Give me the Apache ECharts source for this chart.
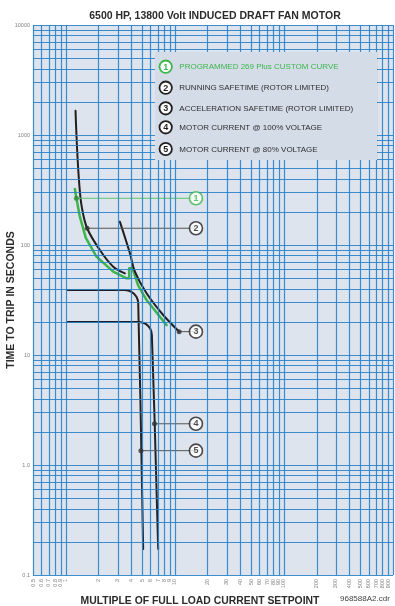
<!DOCTYPE html>
<html>
<head>
<meta charset="utf-8">
<script src="https://cdn.jsdelivr.net/npm/echarts@6/dist/echarts.min.js"></script>
<style>
  html, body { margin: 0; padding: 0; background: #ffffff; }
  #chart { width: 395px; height: 606px; }
</style>
</head>
<body>
<div id="chart"></div>
<script>
// Tick positions and labels (log scales)
const xTickValues = [0.5, 0.6, 0.7, 0.8, 0.9, 1, 2, 3, 4, 5, 6, 7, 8, 9, 10, 20, 30, 40, 50, 60, 70, 80, 90, 100, 200, 300, 400, 500, 600, 700, 800, 900, 1000];
const xTickLabels = ['0.5', '0.6', '0.7', '0.8', '0.9', '1', '2', '3', '4', '5', '6', '7', '8', '9', '10', '20', '30', '40', '50', '60', '70', '80', '90', '100', '200', '300', '400', '500', '600', '700', '800', '900', '1000'];
const yTickValues = [0.1, 1, 10, 100, 1000, 10000];
const yTickLabels = ['0.1', '1.0', '10', '100', '1000', '10000'];
const yGridValues = [0.1, 0.2, 0.3, 0.4, 0.5, 0.6, 0.7, 0.8, 0.9,
  1, 2, 3, 4, 5, 6, 7, 8, 9,
  10, 20, 30, 40, 50, 60, 70, 80, 90,
  100, 200, 300, 400, 500, 600, 700, 800, 900,
  1000, 2000, 3000, 4000, 5000, 6000, 7000, 8000, 9000, 10000];

// Curves: [multiple of FLC, seconds]
const customCurve = [[1.21, 323], [1.25, 266], [1.344, 181], [1.525, 116], [1.91, 78.3], [2.72, 57.2], [3.60, 49.8], [3.81, 49.8], [3.81, 61.4], [4.09, 61.4], [4.58, 43.3], [5.50, 31.6], [8.39, 18.7]];
const runningSafetime = [[1.227, 1663], [1.27, 731], [1.33, 351], [1.40, 222], [1.568, 142], [2.05, 90.1], [2.72, 63.5], [3.48, 55.3]];
const accelSafetime = [[3.13, 163], [3.87, 84.0], [4.30, 57.2], [5.50, 36.4], [7.81, 23.1], [10.95, 16.3]];
const current100 = [[1.036, 20], [4.67, 20], [5.36, 19.3], [5.93, 17.4], [6.15, 15.2], [7.03, 0.172]];
const current80 = [[1.036, 39.0], [3.48, 39.0], [4.00, 37.5], [4.44, 33.9], [4.61, 29.5], [5.12, 0.172]];

// Callouts: point on each curve, and the x of the numbered circle
const calloutNumbers = ['1', '2', '3', '4', '5'];
const calloutPoints = [[1.25, 266], [1.568, 142], [10.95, 16.3], [6.5, 2.37], [4.88, 1.35]];
const calloutCircleX = 15.6;

const legendItems = [
  'PROGRAMMED 269 Plus CUSTOM CURVE',
  'RUNNING SAFETIME (ROTOR LIMITED)',
  'ACCELERATION SAFETIME (ROTOR LIMITED)',
  'MOTOR CURRENT @ 100% VOLTAGE',
  'MOTOR CURRENT @ 80% VOLTAGE'
];

const GREEN = '#3cb54a';
const INK = '#231f20';
const GRID_BLUE = '#2a82c9';
const FONT = '"Liberation Sans", Arial, sans-serif';

function lookupLabel(values, labels, v) {
  for (let i = 0; i < values.length; i++) {
    if (Math.abs(Math.log10(v) - Math.log10(values[i])) < 1e-6) return labels[i];
  }
  return '';
}

const chart = echarts.init(document.getElementById('chart'), null, { renderer: 'canvas' });

const gridLines = [];
xTickValues.forEach(v => gridLines.push({ xAxis: v }));
yGridValues.forEach(v => gridLines.push({ yAxis: v }));

const series = [];

// paper grid
series.push({
  type: 'line',
  data: [[0.5, 0.1]],
  showSymbol: false,
  lineStyle: { opacity: 0 },
  silent: true,
  z: 1,
  markLine: {
    silent: true,
    symbol: ['none', 'none'],
    label: { show: false },
    lineStyle: { color: GRID_BLUE, width: 1.2, type: 'solid', opacity: 0.9 },
    emphasis: { disabled: true },
    animation: false,
    data: gridLines
  }
});

function curve(name, data, color, width) {
  return {
    name: name,
    type: 'line',
    data: data,
    showSymbol: false,
    smooth: 0.35,
    lineStyle: { color: color, width: width, cap: 'round', join: 'round' },
    silent: true,
    z: 3,
    animation: false
  };
}

series.push(curve('current80', current80, INK, 2));
series.push(curve('current100', current100, INK, 2));
series.push(Object.assign(curve('custom', customCurve, GREEN, 2.5), { smooth: false }));
series.push(curve('running', runningSafetime, INK, 2));
series.push(curve('accel', accelSafetime, INK, 2));

// leader lines
calloutPoints.forEach((p, i) => {
  series.push({
    type: 'line',
    data: [p, [calloutCircleX, p[1]]],
    showSymbol: false,
    lineStyle: { color: i === 0 ? '#5cc46a' : '#555555', width: 1 },
    silent: true,
    z: 4,
    animation: false
  });
});

// dots on curves
series.push({
  type: 'scatter',
  data: calloutPoints.map((p, i) => ({
    value: p,
    itemStyle: { color: i === 0 ? '#2f8f3c' : '#333333' }
  })),
  symbolSize: 5,
  silent: true,
  z: 5,
  animation: false
});

// numbered circles
series.push({
  type: 'scatter',
  data: calloutPoints.map((p, i) => ({
    value: [calloutCircleX, p[1], calloutNumbers[i]],
    itemStyle: { color: '#ffffff', borderColor: i === 0 ? GREEN : INK, borderWidth: 1.6 },
    label: { color: i === 0 ? GREEN : INK }
  })),
  symbolSize: 13,
  label: {
    show: true,
    position: 'inside',
    formatter: p => p.value[2],
    fontFamily: FONT,
    fontWeight: 'bold',
    fontSize: 9
  },
  silent: true,
  z: 6,
  animation: false
});

// legend panel
const legendRows = [66.7, 87.7, 108.3, 127.3, 149];
const legendElements = [{
  type: 'rect', z: 100,
  shape: { x: 155, y: 52, width: 222, height: 108 },
  style: { fill: '#d4dce8' }
}];
legendItems.forEach((t, i) => {
  const col = i === 0 ? GREEN : INK;
  legendElements.push({
    type: 'circle', z: 101,
    shape: { cx: 165.7, cy: legendRows[i], r: 6.2 },
    style: { fill: '#ffffff', stroke: col, lineWidth: 1.8 }
  });
  legendElements.push({
    type: 'text', z: 102,
    x: 165.7, y: legendRows[i] + 0.5,
    style: {
      text: calloutNumbers[i], fill: col,
      font: 'bold 9px ' + FONT,
      align: 'center', verticalAlign: 'middle'
    }
  });
  legendElements.push({
    type: 'text', z: 102,
    x: 179.3, y: legendRows[i] + 0.5,
    style: {
      text: t, fill: i === 0 ? GREEN : '#2e2e2e',
      font: '8px ' + FONT,
      align: 'left', verticalAlign: 'middle'
    }
  });
});
legendElements.push({
  type: 'text', z: 100, x: 340, y: 599,
  style: { text: '968588A2.cdr', fill: '#444444', font: '8px ' + FONT, verticalAlign: 'middle' }
});

const option = {
  backgroundColor: '#ffffff',
  animation: false,
  title: {
    text: '6500 HP, 13800 Volt INDUCED DRAFT FAN MOTOR',
    left: 210, top: 6, textAlign: 'center',
    textStyle: { fontFamily: FONT, fontWeight: 'bold', fontSize: 10.5, color: '#2b2b2b' }
  },
  grid: {
    left: 33, right: 2, top: 25, bottom: 31,
    outerBoundsMode: 'none',
    containLabel: false,
    show: true, backgroundColor: '#dde4ee', borderWidth: 0
  },
  xAxis: {
    type: 'log', logBase: 10, min: 0.5, max: 1000,
    axisLine: { show: false }, axisTick: { show: false },
    splitLine: { show: false }, minorSplitLine: { show: false },
    axisLabel: {
      customValues: xTickValues,
      rotate: 90, margin: 4,
      fontSize: 5.5, color: '#808080',
      fontFamily: FONT,
      formatter: v => lookupLabel(xTickValues, xTickLabels, v)
    },
    name: 'MULTIPLE OF FULL LOAD CURRENT SETPOINT',
    nameLocation: 'middle', nameGap: 19,
    nameTextStyle: { fontFamily: FONT, fontWeight: 'bold', fontSize: 10.4, color: '#2b2b2b', padding: [0, 26, 0, 0] }
  },
  yAxis: {
    type: 'log', logBase: 10, min: 0.1, max: 10000,
    axisLine: { show: false }, axisTick: { show: false },
    splitLine: { show: false },
    axisLabel: {
      customValues: yTickValues,
      margin: 3, fontSize: 5.5, color: '#808080',
      fontFamily: FONT,
      formatter: v => lookupLabel(yTickValues, yTickLabels, v)
    },
    name: 'TIME TO TRIP IN SECONDS',
    nameLocation: 'middle', nameGap: 16,
    nameMoveOverlap: false,
    nameTextStyle: { fontFamily: FONT, fontWeight: 'bold', fontSize: 10.5, color: '#2b2b2b' }
  },
  graphic: { elements: legendElements },
  series: series
};

chart.setOption(option);
</script>
</body>
</html>
